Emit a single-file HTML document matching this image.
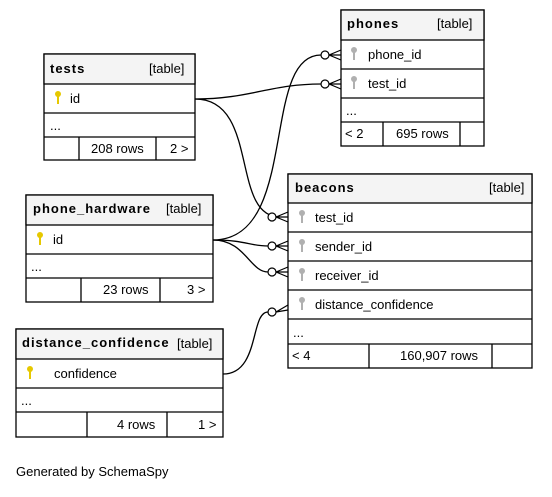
<!DOCTYPE html>
<html><head><meta charset="utf-8"><style>
body{margin:0;background:#fff;}
svg text{font-family:"Liberation Sans",sans-serif;font-size:13px;fill:#000;}
.b{font-weight:bold;letter-spacing:1px;}
</style></head><body>
<svg width="552" height="492" viewBox="0 0 552 492" xmlns="http://www.w3.org/2000/svg">
<defs>
<g id="kp"><circle cx="0" cy="-3" r="3" fill="#e6c800"/><rect x="-1" y="-1" width="2" height="8" fill="#e6c800"/></g>
<g id="kf"><circle cx="0" cy="-3" r="3" fill="#b0b0b0"/><rect x="-1" y="-1" width="2" height="8" fill="#b0b0b0"/></g>
</defs>
<g fill="none" stroke="#000" stroke-width="1.3">
<path d="M195,99 C250,99 270,84 321,84"/>
<path d="M195,99 C260,99 230,217 280,217"/>
<path d="M213,240 C300,240 260,55 321,55"/>
<path d="M213,240 C245,240 250,246 268,246"/>
<path d="M213,240 C245,240 250,272 268,272"/>
<path d="M223,374 C260,374 250,312 268,312"/>
</g>
<g fill="#fff" stroke="#000" stroke-width="1.2">
<circle cx="325" cy="55" r="4"/><circle cx="325" cy="84" r="4"/>
<circle cx="272" cy="217" r="4"/><circle cx="272" cy="246" r="4"/><circle cx="272" cy="272" r="4"/><circle cx="272" cy="312" r="4"/>
</g>
<g stroke="#000" stroke-width="1.2" fill="none">
<path d="M329,55 L341,55 M329,55 L341,50 M329,55 L341,60"/>
<path d="M329,84 L341,84 M329,84 L341,79 M329,84 L341,89"/>
<path d="M276,217 L288,217 M276,217 L288,212 M276,217 L288,222"/>
<path d="M276,246 L288,246 M276,246 L288,241 M276,246 L288,251"/>
<path d="M276,272 L288,272 M276,272 L288,267 M276,272 L288,277"/>
<path d="M276,312 L288,305 M276,312 L288,310"/>
</g>
<g stroke="#000" stroke-width="1.3" fill="#fff">
<rect x="44" y="54" width="151" height="106"/>
<rect x="44" y="54" width="151" height="30" fill="#f4f4f4"/>
<path d="M44,113H195M44,137H195M79,137V160M156,137V160"/>
<rect x="341" y="10" width="143" height="136"/>
<rect x="341" y="10" width="143" height="30" fill="#f4f4f4"/>
<path d="M341,69H484M341,98H484M341,122H484M383,122V146M460,122V146"/>
<rect x="288" y="174" width="244" height="194"/>
<rect x="288" y="174" width="244" height="29" fill="#f4f4f4"/>
<path d="M288,232H532M288,261H532M288,290H532M288,319H532M288,344H532M369,344V368M492,344V368"/>
<rect x="26" y="195" width="187" height="107"/>
<rect x="26" y="195" width="187" height="30" fill="#f4f4f4"/>
<path d="M26,254H213M26,278H213M81,278V302M160,278V302"/>
<rect x="16" y="329" width="207" height="108"/>
<rect x="16" y="329" width="207" height="30" fill="#f4f4f4"/>
<path d="M16,388H223M16,412H223M87,412V437M167,412V437"/>
</g>
<text x="50" y="73" class="b">tests</text><text x="149" y="73">[table]</text>
<use href="#kp" x="58" y="97"/><text x="70" y="103">id</text>
<text x="50" y="130">...</text>
<text x="91" y="153">208 rows</text><text x="170" y="153">2 &gt;</text>
<text x="347" y="28" class="b">phones</text><text x="437" y="28">[table]</text>
<use href="#kf" x="354" y="53"/><text x="368" y="59">phone_id</text>
<use href="#kf" x="354" y="82"/><text x="368" y="88">test_id</text>
<text x="346" y="115">...</text>
<text x="345" y="138">&lt; 2</text><text x="396" y="138">695 rows</text>
<text x="295" y="192" class="b">beacons</text><text x="489" y="192">[table]</text>
<use href="#kf" x="302" y="216"/><text x="315" y="222">test_id</text>
<use href="#kf" x="302" y="245"/><text x="315" y="251">sender_id</text>
<use href="#kf" x="302" y="274"/><text x="315" y="280">receiver_id</text>
<use href="#kf" x="302" y="303"/><text x="315" y="309">distance_confidence</text>
<text x="293" y="337">...</text>
<text x="292" y="360">&lt; 4</text><text x="400" y="360">160,907 rows</text>
<text x="33" y="213" class="b">phone_hardware</text><text x="166" y="213">[table]</text>
<use href="#kp" x="40" y="238"/><text x="53" y="244">id</text>
<text x="31" y="271">...</text>
<text x="103" y="294">23 rows</text><text x="187" y="294">3 &gt;</text>
<text x="22" y="347" class="b">distance_confidence</text><text x="177" y="348">[table]</text>
<use href="#kp" x="30" y="372"/><text x="54" y="378">confidence</text>
<text x="21" y="405">...</text>
<text x="117" y="429">4 rows</text><text x="198" y="429">1 &gt;</text>
<text x="16" y="476">Generated by SchemaSpy</text>
</svg>
</body></html>
